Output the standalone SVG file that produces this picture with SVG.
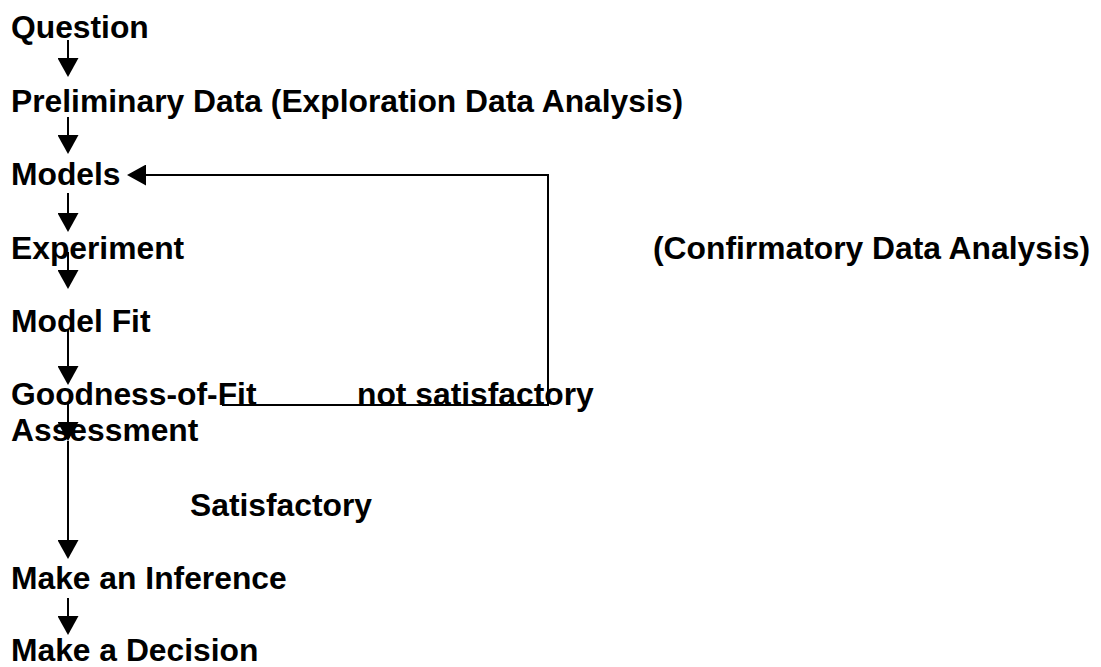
<svg xmlns="http://www.w3.org/2000/svg" width="1101" height="667" viewBox="0 0 1101 667">
  <style>
    .lbl { font-family: "Liberation Sans", Arial, sans-serif; font-weight: bold; font-size: 31.8px; fill: #000; }
    .wire { fill: none; stroke: #000; stroke-width: 2; marker-end: url(#head); }
  </style>
  <defs>
    <!-- solid triangular arrowhead, attached at its base -->
    <marker id="head" markerUnits="userSpaceOnUse" markerWidth="19" markerHeight="21" viewBox="0 0 19 21" refX="0" refY="10.5" orient="auto">
      <path d="M0,0 L19,10.5 L0,21 Z" fill="#000"/>
    </marker>
  </defs>
  <rect width="1101" height="667" fill="#fff"/>

  <g id="connectors">
    <path class="wire" d="M68,40 V58"/>
    <path class="wire" d="M68,117 V135"/>
    <path class="wire" d="M68,193 V213"/>
    <path class="wire" d="M68,252 V270"/>
    <path class="wire" d="M68,330 V366"/>
    <path class="wire" d="M68,403 V422"/>
    <path class="wire" d="M68,441 V540"/>
    <path class="wire" d="M68,598 V616"/>
    <!-- feedback loop back to Models -->
    <path class="wire" d="M222,405 H548 V175 H146"/>
  </g>

  <g id="question"><text class="lbl" x="11" y="38">Question</text></g>
  <g id="preliminary"><text class="lbl" x="11" y="112">Preliminary Data (Exploration Data Analysis)</text></g>
  <g id="models"><text class="lbl" x="11" y="185">Models</text></g>
  <g id="experiment"><text class="lbl" x="11" y="259">Experiment</text></g>
  <g id="confirmatory"><text class="lbl" x="1090" y="259" text-anchor="end">(Confirmatory Data Analysis)</text></g>
  <g id="model-fit"><text class="lbl" x="11" y="332">Model Fit</text></g>
  <g id="goodness"><text class="lbl" x="11" y="405">Goodness-of-Fit</text><text class="lbl" x="11" y="441">Assessment</text></g>
  <g id="not-satisfactory"><text class="lbl" x="357" y="405">not satisfactory</text></g>
  <g id="satisfactory"><text class="lbl" x="190" y="516">Satisfactory</text></g>
  <g id="inference"><text class="lbl" x="11" y="589">Make an Inference</text></g>
  <g id="decision"><text class="lbl" x="11" y="661">Make a Decision</text></g>
</svg>
